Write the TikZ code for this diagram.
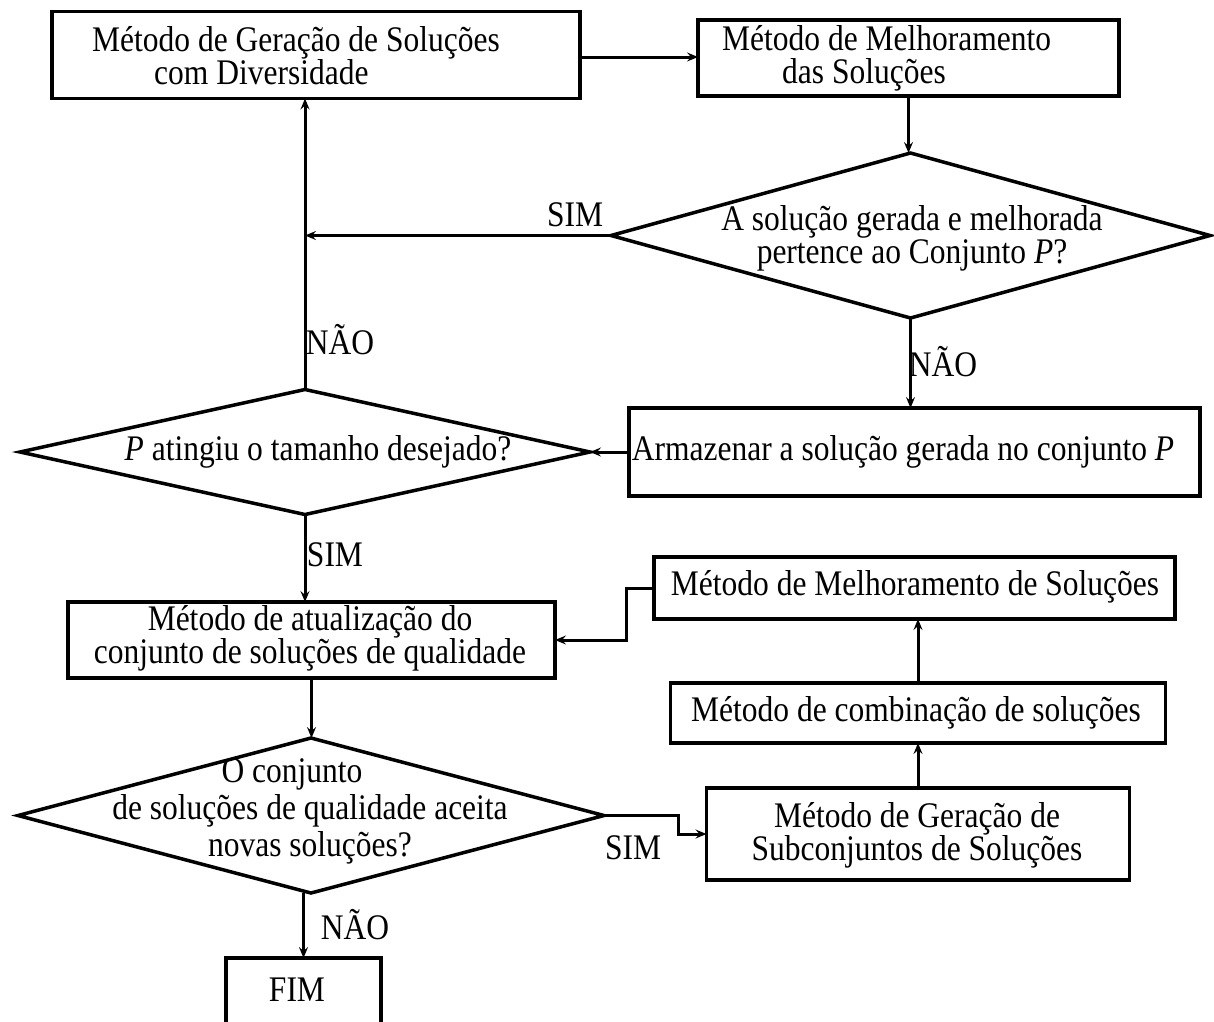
\documentclass[tikz,border=0pt]{standalone}
\usepackage{fontspec}
\setmainfont{Liberation Serif}[FakeStretch=0.875]
\usetikzlibrary{arrows.meta,shapes.geometric}
\begin{document}
\begin{tikzpicture}[x=1pt,y=-1pt,
  box/.style={draw, line width=3.5pt, inner sep=0pt, outer sep=0pt},
  decision/.style={draw, diamond, line width=3.5pt, inner sep=0pt, outer sep=0pt},
  txt/.style={inner sep=0pt, align=center, font=\fontsize{36}{33}\selectfont},
  lbl/.style={inner sep=0pt, font=\fontsize{36}{33}\selectfont},
  conn/.style={line width=3pt, -{Stealth[length=11pt,width=9pt,inset=4pt]}},
  plain/.style={line width=3pt}]
\useasboundingbox (0,0) rectangle (1214,1021);

% process boxes and decisions
\node[box, minimum width=528, minimum height=87] (gen) at (316,55) {};
\node[box, minimum width=421, minimum height=76] (melh) at (908.5,58) {};
\node[decision, minimum width=599, minimum height=165] (dec1) at (910.5,235.5) {};
\node[box, minimum width=571, minimum height=88] (store) at (914.5,452) {};
\node[decision, minimum width=570, minimum height=125] (dec2) at (305,452) {};
\node[box, minimum width=487, minimum height=76] (upd) at (311.5,640) {};
\node[box, minimum width=521, minimum height=62] (mel2) at (914.5,588) {};
\node[box, minimum width=495, minimum height=60] (comb) at (918,713) {};
\node[box, minimum width=423, minimum height=92] (gsub) at (918,834) {};
\node[decision, minimum width=586, minimum height=155] (dec3) at (311,815.5) {};
\node[inner sep=0pt, outer sep=0pt, minimum width=155, minimum height=64] (fim) at (303.5,990) {};
\draw[line width=3.5pt] (fim.south west) -- (fim.north west) -- (fim.north east) -- (fim.south east);

% texts
\node[txt, align=left, anchor=west] (gen-t) at (92,56) {Método de Geração de Soluções\\\hspace*{62pt}com Diversidade};
\node[txt, align=left, anchor=west] (melh-t) at (722,58) {Método de Melhoramento\\\hspace*{60pt}das Soluções};
\node[txt] (dec1-t) at (912,238) {A solução gerada e melhorada\\pertence ao Conjunto \textit{P}?};
\node[txt] (dec2-t) at (318,452) {\textit{P} atingiu o tamanho desejado?};
\node[txt] (store-t) at (903,452) {Armazenar a solução gerada no conjunto \textit{P}};
\node[txt] (upd-t) at (310,638) {Método de atualização do\\conjunto de soluções de qualidade};
\node[txt] (mel2-t) at (915,587) {Método de Melhoramento de Soluções};
\node[txt] (comb-t) at (916,713) {Método de combinação de soluções};
\node[txt] (gsub-t) at (917,835) {Método de Geração de\\Subconjuntos de Soluções};
\node[txt, font=\fontsize{36}{37}\selectfont] (dec3-t) at (310,811) {\makebox[177pt][l]{O conjunto}\\de soluções de qualidade aceita\\novas soluções?};
\node[txt] (fim-t) at (297,990) {FIM};

% branch labels
\node[lbl] (l-sim1) at (575,215) {SIM};
\node[lbl] (l-nao1) at (340,340) {NÃO};
\node[lbl] (l-nao2) at (943,362) {NÃO};
\node[lbl] (l-sim2) at (335,555) {SIM};
\node[lbl] (l-sim3) at (633,848) {SIM};
\node[lbl] (l-nao3) at (355,925) {NÃO};

% connectors
\draw[conn] (gen.east |- 0,57) -- (melh.west |- 0,57);
\draw[conn] (melh.south) -- (melh.south |- dec1.north);
\draw[conn] (dec1.west) -- (dec1.west -| dec2.north);
\draw[conn] (dec2.north) -- (dec2.north |- gen.south);
\draw[conn] (dec1.south) -- (dec1.south |- store.north);
\draw[conn] (store.west) -- (dec2.east);
\draw[conn] (dec2.south) -- (dec2.south |- upd.north);
\draw[conn] (mel2.west) -- ++(-28,0) |- (upd.east);
\draw[conn] (comb.north) -- (comb.north |- mel2.south);
\draw[conn] (gsub.north) -- (gsub.north |- comb.south);
\draw[conn] (upd.south) -- (upd.south |- dec3.north);
\draw[conn] (dec3.east) -- ++(74,0) |- (gsub.west);
\draw[conn] (dec3.south -| fim.north) -- (fim.north);
\end{tikzpicture}
\end{document}
